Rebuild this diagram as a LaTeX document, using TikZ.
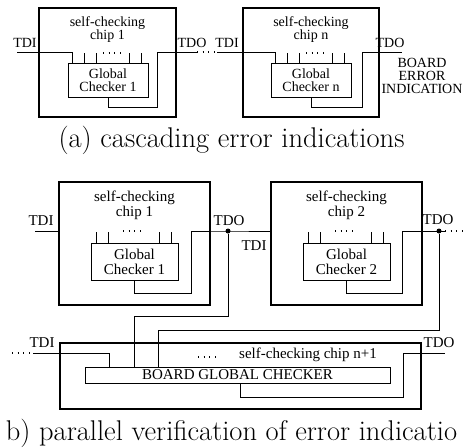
\documentclass[tikz,border=0pt]{standalone}
\usepackage{fontspec}
\newfontfamily\chipfont{Liberation Serif}

\begin{document}
\begin{tikzpicture}[x=1pt, y=-1pt, line width=0.8pt,
    chip/.style={draw, line width=2.2pt, inner sep=0pt},
    checker/.style={draw, line width=0.8pt},
    lbla/.style={font=\chipfont\fontsize{14}{13}\selectfont, align=center, inner sep=0pt},
    lblb/.style={font=\chipfont\fontsize{15}{15}\selectfont, align=center, inner sep=0pt},
    dotrow/.style={line width=1.1pt, dash pattern=on 0.9pt off 4.8pt},
    junction/.style={circle, fill, inner sep=0pt, minimum size=5pt},
    captxt/.style={font=\fontsize{28.5}{32}\selectfont, inner sep=0pt, anchor=base}]
    \useasboundingbox (0,0) rectangle (463,447);

    % (a) cascading error indications
    \node[chip, minimum width=137pt, minimum height=109pt] (chipA) at (107.5,62.5) {};
    \node[lbla] (nameA) at (107.5,30) {self-checking\\chip 1};
    \node[checker, lbla, minimum width=80pt, minimum height=34pt] (chkA) at (108,80) {Global\\Checker 1};
    \node[chip, minimum width=136pt, minimum height=109pt] (chipN) at (311,62.5) {};
    \node[lbla] (nameN) at (311,30) {self-checking\\chip n};
    \node[checker, lbla, minimum width=80pt, minimum height=34pt] (chkN) at (311,80) {Global\\Checker n};

    \coordinate (inA) at (17,52);
    \coordinate (outA) at (197,52);
    \coordinate (inN) at (217,52);
    \coordinate (outN) at (402,52);

    % draw chain of chip 1 and chip n
    \draw (inA) -| ([xshift=5]chkA.north west);
    \foreach \d in {17,29,62,74} \draw ([xshift=\d]chkA.north west) -- ++(0,-10);
    \draw[dotrow] (103,53) -- (124,53);
    \draw (chkA.south) |- (157,107) |- (outA);
    \draw[dotrow] (outA) -- (inN);
    \draw (inN) -| ([xshift=5]chkN.north west);
    \foreach \d in {17,29,62,74} \draw ([xshift=\d]chkN.north west) -- ++(0,-10);
    \draw[dotrow] (306,53) -- (327,53);
    \draw (chkN.south) |- (362,107) |- (outN);

    \node[lbla] (tdiA) at (25,43) {TDI};
    \node[lbla] (tdoA) at (192,43) {TDO};
    \node[lbla] (tdiN) at (227,43) {TDI};
    \node[lbla] (tdoN) at (390,43) {TDO};
    \node[lbla] (errN) at (422,76) {BOARD\\ERROR\\INDICATION};

    \node[captxt] (capA) at (231.5,147) {(a) cascading error indications};

    % (b) parallel verification of error indications
    \node[chip, minimum width=151pt, minimum height=123pt] (chipB1) at (134.5,243.5) {};
    \node[lblb] (nameB1) at (134.5,205) {self-checking\\chip 1};
    \node[checker, lblb, minimum width=87pt, minimum height=37pt] (chkB1) at (134.5,261.5) {Global\\Checker 1};
    \node[chip, minimum width=151pt, minimum height=123pt] (chipB2) at (346.5,243.5) {};
    \node[lblb] (nameB2) at (346.5,205) {self-checking\\chip 2};
    \node[checker, lblb, minimum width=87pt, minimum height=37pt] (chkB2) at (346.5,261.5) {Global\\Checker 2};
    \node[chip, minimum width=361pt, minimum height=66pt] (chipBN) at (240.5,376) {};
    \node[checker, lblb, minimum width=305pt, minimum height=16pt] (bchk) at (237.5,375) {BOARD GLOBAL CHECKER};
    \node[lblb] (nameBN) at (308,355) {self-checking chip n+1};

    \coordinate (inB1) at (35,231);
    \coordinate (jB1) at (228,231);
    \coordinate (jB2) at (439,231);
    \coordinate (outB2) at (445,231);
    \coordinate (endB2) at (463,231);
    \coordinate (startBN) at (12,353);
    \coordinate (inBN) at (33,353);
    \coordinate (outBN) at (445,353);

    % draw chip 1 and chip 2
    \draw (inB1) -- (inB1 -| chipB1.west);
    \foreach \d in {6,18,69,81} \draw ([xshift=\d]chkB1.north west) -- ++(0,-11);
    \draw[dotrow] (123,231) -- (144,231);
    \draw (chkB1.south) |- (191,293) |- (jB1) -- (jB1 -| chipB2.west);
    \foreach \d in {6,18,69,81} \draw ([xshift=\d]chkB2.north west) -- ++(0,-11);
    \draw[dotrow] (335,231) -- (356,231);
    \draw (chkB2.south) |- (402,293) |- (outB2);
    \draw[dotrow] (outB2) -- (endB2);
    \node[junction] (dotB1) at (jB1) {};
    \node[junction] (dotB2) at (jB2) {};

    % draw error lines to board checker
    \draw (dotB1) -- (228,316) -| ([xshift=50]bchk.north west);
    \draw (dotB2) -- (439,330) -| ([xshift=74]bchk.north west);

    % draw chip n+1
    \draw[dotrow] (startBN) -- (inBN);
    \draw (inBN) -| ([xshift=25]bchk.north west);
    \draw ([xshift=156]bchk.south west) |- (403,397) |- (outBN);
    \draw[dotrow] (198,357) -- (219,357);

    \node[lblb] (tdiB1) at (41,221) {TDI};
    \node[lblb] (tdoB1) at (229,221) {TDO};
    \node[lblb] (tdiB2) at (254,246) {TDI};
    \node[lblb] (tdoB2) at (438,220) {TDO};
    \node[lblb] (tdiBN) at (42,343) {TDI};
    \node[lblb] (tdoBN) at (439,343) {TDO};

    \node[captxt] (capB) at (231.5,440) {b) parallel verification of error indicatio};
\end{tikzpicture}
\end{document}
